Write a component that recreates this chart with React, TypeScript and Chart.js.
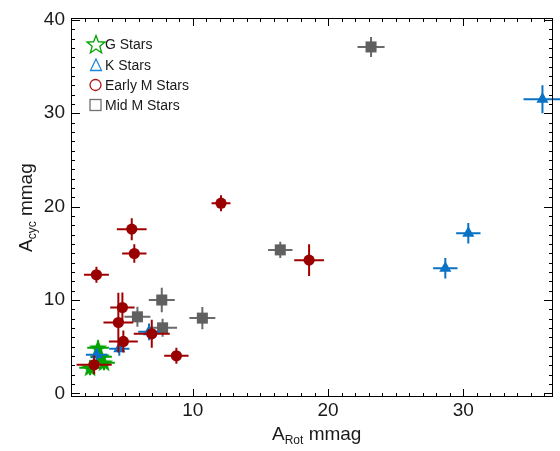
import { useEffect, useRef } from 'react';
import { Chart, registerables } from 'chart.js';

Chart.register(...registerables);

// Amplitudes in mmag: rotational (x) vs. cycle (y), with 1-sigma errors
const gStarsRot = [3.0, 3.22, 3.44, 2.41];
const gStarsCyc = [4.87, 3.91, 3.27, 2.73];
const gStarsRotErr = [0.8, 0.8, 0.8, 0.8];
const gStarsCycErr = [0.8, 0.8, 0.8, 0.8];

const kStarsRot = [35.85, 30.37, 28.67, 4.57, 2.9, 6.77];
const kStarsCyc = [31.5, 17.15, 13.4, 4.76, 4.12, 6.58];
const kStarsRotErr = [1.4, 0.9, 0.9, 0.75, 0.8, 0.8];
const kStarsCycErr = [1.5, 1.1, 1.1, 0.75, 0.7, 0.9];

const earlyMRot = [12.09, 5.49, 5.68, 2.88, 18.6, 4.8, 4.5, 6.97, 4.87, 8.79, 2.71];
const earlyMCyc = [20.36, 17.58, 14.97, 12.69, 14.26, 9.19, 7.58, 6.37, 5.55, 4.01, 3.05];
const earlyMRotErr = [0.7, 1.1, 0.9, 0.92, 1.1, 0.9, 1.1, 1.33, 1.07, 0.9, 1.3];
const earlyMCycErr = [0.86, 1.18, 1.0, 0.86, 1.7, 1.6, 3.2, 1.5, 1.18, 0.86, 1.0];

const midMRot = [23.18, 16.47, 7.71, 5.91, 7.77, 10.71];
const midMCyc = [37.1, 15.36, 9.99, 8.19, 7.01, 8.05];
const midMRotErr = [1.0, 0.9, 0.96, 0.96, 1.07, 0.96];
const midMCycErr = [1.07, 0.86, 1.3, 1.07, 0.96, 1.18];

const legendLabels = ['G Stars', 'K Stars', 'Early M Stars', 'Mid M Stars'];
const xTickLabels = [10, 20, 30];
const yTickLabels = [0, 10, 20, 30, 40];

const GREEN = '#00a300';
const BLUE = '#0a72c4';
const RED = '#990000';
const GRAY = '#606060';
const FONT = "'Liberation Sans', Arial, Helvetica, sans-serif";

function starPath(ctx: CanvasRenderingContext2D, cx: number, cy: number, R: number, r: number) {
  ctx.beginPath();
  for (let i = 0; i < 10; i++) {
    const a = -Math.PI / 2 + (i * Math.PI) / 5;
    const rad = i % 2 === 0 ? R : r;
    const px = cx + Math.cos(a) * rad;
    const py = cy + Math.sin(a) * rad;
    if (i === 0) ctx.moveTo(px, py);
    else ctx.lineTo(px, py);
  }
  ctx.closePath();
}

function makeStar(size: number, color: string) {
  const c = document.createElement('canvas');
  c.width = size;
  c.height = size;
  const ctx = c.getContext('2d')!;
  starPath(ctx, size / 2, size / 2 + 0.8, size / 2 - 0.5, (size / 2 - 0.5) * 0.42);
  ctx.fillStyle = color;
  ctx.fill();
  return c;
}

function toPoints(xs: number[], ys: number[]) {
  return xs.map((x, i) => ({ x, y: ys[i] }));
}

const errorBars = {
  id: 'errorBars',
  beforeDatasetDraw(chart: any, args: any) {
    const ds = chart.data.datasets[args.index];
    if (!ds.errX) return;
    const ctx = chart.ctx;
    const xs = chart.scales.x;
    const ys = chart.scales.y;
    ctx.save();
    ctx.strokeStyle = ds.barColor;
    ctx.lineWidth = 2;
    ds.data.forEach((p: any, i: number) => {
      const cx = xs.getPixelForValue(p.x);
      const cy = ys.getPixelForValue(p.y);
      ctx.beginPath();
      ctx.moveTo(xs.getPixelForValue(p.x - ds.errX[i]), cy);
      ctx.lineTo(xs.getPixelForValue(p.x + ds.errX[i]), cy);
      ctx.moveTo(cx, ys.getPixelForValue(p.y - ds.errY[i]));
      ctx.lineTo(cx, ys.getPixelForValue(p.y + ds.errY[i]));
      ctx.stroke();
    });
    ctx.restore();
  },
};

const frameAndExtras = {
  id: 'frameAndExtras',
  afterDraw(chart: any) {
    const ctx = chart.ctx;
    const { left, right, top, bottom } = chart.chartArea;
    const xs = chart.scales.x;
    const ys = chart.scales.y;
    ctx.save();
    ctx.strokeStyle = '#000';
    ctx.lineWidth = 1;
    ctx.strokeRect(left + 0.5, top + 0.5, right - left - 1, bottom - top - 1);

    // inward ticks on all four sides
    ctx.beginPath();
    for (let v = Math.ceil(xs.min); v <= Math.floor(xs.max); v++) {
      const px = Math.round(xs.getPixelForValue(v)) + 0.5;
      const len = v % 10 === 0 ? 8 : 4;
      ctx.moveTo(px, bottom);
      ctx.lineTo(px, bottom - len);
      ctx.moveTo(px, top);
      ctx.lineTo(px, top + len);
    }
    for (let v = Math.ceil(ys.min); v <= Math.floor(ys.max); v++) {
      const py = Math.round(ys.getPixelForValue(v)) + 0.5;
      const len = v % 10 === 0 ? 9 : 4;
      ctx.moveTo(left, py);
      ctx.lineTo(left + len, py);
      ctx.moveTo(right, py);
      ctx.lineTo(right - len, py);
    }
    ctx.stroke();

    // axis titles with subscripts
    ctx.fillStyle = '#1a1a1a';
    ctx.textBaseline = 'alphabetic';
    const drawTitle = (x0: number, y0: number, main: string, sub: string, rest: string) => {
      ctx.textAlign = 'left';
      ctx.font = `19px ${FONT}`;
      ctx.fillText(main, x0, y0);
      let w = ctx.measureText(main).width;
      ctx.font = `12px ${FONT}`;
      ctx.fillText(sub, x0 + w, y0 + 4);
      w += ctx.measureText(sub).width;
      ctx.font = `19px ${FONT}`;
      ctx.fillText(rest, x0 + w, y0);
    };
    drawTitle(272, 440, 'A', 'Rot', ' mmag');
    ctx.save();
    ctx.translate(32, 252);
    ctx.rotate(-Math.PI / 2);
    drawTitle(0, 0, 'A', 'cyc', ' mmag');
    ctx.restore();

    // legend
    const lx = 95;
    const rows = [44, 65, 85, 105];
    ctx.lineWidth = 1.3;
    ctx.strokeStyle = GREEN;
    starPath(ctx, lx + 1, rows[0] + 1, 9.5, 4);
    ctx.stroke();
    ctx.strokeStyle = '#1f88dd';
    ctx.beginPath();
    ctx.moveTo(lx + 1, rows[1] - 6);
    ctx.lineTo(lx + 6.5, rows[1] + 5.5);
    ctx.lineTo(lx - 4.5, rows[1] + 5.5);
    ctx.closePath();
    ctx.stroke();
    ctx.strokeStyle = '#b01010';
    ctx.beginPath();
    ctx.arc(lx + 0.5, rows[2], 5.5, 0, Math.PI * 2);
    ctx.stroke();
    ctx.strokeStyle = '#707070';
    ctx.strokeRect(lx - 5, rows[3] - 5.5, 11, 11);

    ctx.fillStyle = '#1a1a1a';
    ctx.font = `14px ${FONT}`;
    ctx.textAlign = 'left';
    ctx.textBaseline = 'alphabetic';
    legendLabels.forEach((t, i) => ctx.fillText(t, 105, rows[i] + 4.5));
    ctx.restore();
  },
};

export default function App() {
  const ref = useRef<HTMLCanvasElement>(null);

  useEffect(() => {
    const canvas = ref.current!;
    const star = makeStar(20, GREEN);
    const chart = new Chart(canvas, {
      type: 'scatter',
      data: {
        datasets: [
          {
            label: legendLabels[3],
            data: toPoints(midMRot, midMCyc),
            errX: midMRotErr,
            errY: midMCycErr,
            barColor: '#6a6a6a',
            pointStyle: 'rect',
            pointRadius: 7.8,
            backgroundColor: GRAY,
            borderColor: GRAY,
            borderWidth: 0,
            clip: false,
            order: 4,
          } as any,
          {
            label: legendLabels[0],
            data: toPoints(gStarsRot, gStarsCyc),
            errX: gStarsRotErr,
            errY: gStarsCycErr,
            barColor: GREEN,
            pointStyle: star,
            pointRadius: 10,
            backgroundColor: GREEN,
            borderColor: GREEN,
            clip: false,
            order: 3,
          } as any,
          {
            label: legendLabels[1],
            data: toPoints(kStarsRot, kStarsCyc),
            errX: kStarsRotErr,
            errY: kStarsCycErr,
            barColor: BLUE,
            pointStyle: 'triangle',
            pointRadius: 7,
            backgroundColor: BLUE,
            borderColor: BLUE,
            borderWidth: 0,
            clip: false,
            order: 2,
          } as any,
          {
            label: legendLabels[2],
            data: toPoints(earlyMRot, earlyMCyc),
            errX: earlyMRotErr,
            errY: earlyMCycErr,
            barColor: '#a00000',
            pointStyle: 'circle',
            pointRadius: 5.6,
            backgroundColor: RED,
            borderColor: RED,
            borderWidth: 0,
            clip: false,
            order: 1,
          } as any,
        ],
      },
      options: {
        responsive: false,
        animation: false,
        layout: { autoPadding: false, padding: { top: 18, right: 7, left: 0, bottom: 0 } },
        plugins: { legend: { display: false }, tooltip: { enabled: false } },
        scales: {
          x: {
            type: 'linear',
            min: 1.0,
            max: 36.63,
            grid: { display: false, drawTicks: false },
            border: { display: false },
            afterFit: (s: any) => {
              s.height = 54;
              s.paddingLeft = 0;
              s.paddingRight = 0;
            },
            afterBuildTicks: (s: any) => {
              s.ticks = xTickLabels.map((v) => ({ value: v }));
            },
            ticks: {
              padding: 2,
              color: '#1a1a1a',
              font: { family: FONT, size: 19 },
              maxRotation: 0,
            },
          },
          y: {
            type: 'linear',
            min: -0.4,
            max: 40.2,
            grid: { display: false, drawTicks: false },
            border: { display: false },
            afterFit: (s: any) => {
              s.width = 71;
              s.paddingTop = 0;
              s.paddingBottom = 0;
            },
            afterBuildTicks: (s: any) => {
              s.ticks = yTickLabels.map((v) => ({ value: v }));
            },
            ticks: {
              padding: 6,
              color: '#1a1a1a',
              font: { family: FONT, size: 19 },
            },
          },
        },
      } as any,
      plugins: [errorBars, frameAndExtras],
    });
    return () => chart.destroy();
  }, []);

  return (
    <div style={{ position: 'fixed', left: 0, top: 0, width: 560, height: 451, background: '#fff' }}>
      <canvas ref={ref} width={560} height={451} />
    </div>
  );
}
